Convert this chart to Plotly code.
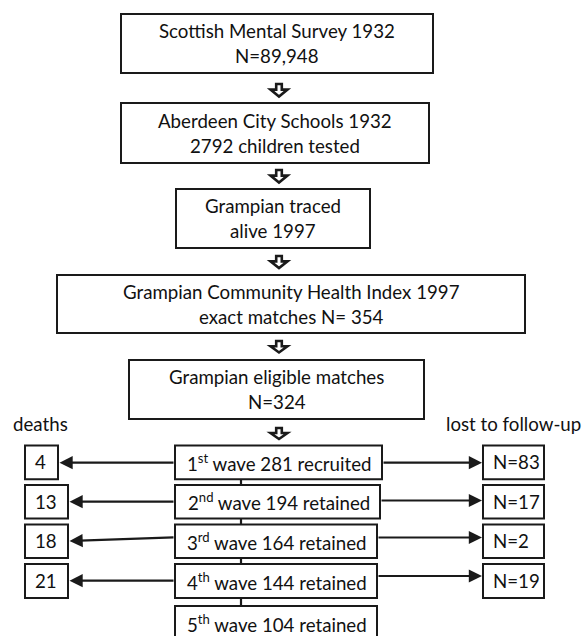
import plotly.graph_objects as go

# ---- data ----
stage_titles = ["Scottish Mental Survey 1932", "Aberdeen City Schools 1932", "Grampian traced",
                "Grampian Community Health Index 1997", "Grampian eligible matches"]
stage_subs = ["N=89,948", "2792 children tested", "alive 1997", "exact matches N= 354", "N=324"]
wave_ordinals = ["1<sup>st</sup>", "2<sup>nd</sup>", "3<sup>rd</sup>", "4<sup>th</sup>", "5<sup>th</sup>"]
wave_counts = [281, 194, 164, 144, 104]
wave_status = ["recruited", "retained", "retained", "retained", "retained"]
deaths = [4, 13, 18, 21]
lost_to_follow_up = [83, 17, 2, 19]

# ---- geometry (pixels, y downwards) ----
stage_boxes = [(121, 433, 14, 73), (121, 429, 103, 163), (176, 370, 189, 248),
               (57, 525, 275, 333), (129, 424, 360, 419)]
block_arrows_y = [(84, 96.5), (170, 182.5), (256, 268), (341, 352.5), (428, 439)]
arrow_cx = 279
row_boxes_y = [(445.5, 479.3), (485, 518.5), (524.5, 558), (564, 598), (606, 642)]
wave_right = [382, 380, 377, 377, 377]
wave_left = 175
left_box_right = [58, 68, 68, 68]
left_arrow_y = [(462.7, 462.7), (501.7, 501.7), (537.3, 541), (580.7, 580.7)]
right_arrow_y = [462.7, 500.5, 537.5, 576]
right_box = (483, 544)

W, H = 585, 636
LINE = "#1a1a1a"
TXT = "#111111"
FONT = "Lato"
FS = 18.7

fig = go.Figure()
shapes = []
annotations = []

def rect(x0, x1, y0, y1):
    shapes.append(dict(type="rect", xref="x", yref="y", x0=x0, x1=x1, y0=y0, y1=y1,
                       line=dict(color=LINE, width=2), fillcolor="white", layer="above"))

def text(x, y, s, anchor="center", size=FS):
    annotations.append(dict(x=x, y=y, xref="x", yref="y", text=s, showarrow=False,
                            xanchor=anchor, yanchor="middle",
                            font=dict(family=FONT, size=size, color=TXT)))

def arrow(x0, y0, x1, y1):
    annotations.append(dict(x=x1, y=y1, ax=x0, ay=y0, xref="x", yref="y", axref="x", ayref="y",
                            text="", showarrow=True, arrowhead=2, arrowsize=1.2,
                            arrowwidth=2.2, arrowcolor=LINE, standoff=0, startstandoff=0))

# stage boxes
for (x0, x1, y0, y1), t, s in zip(stage_boxes, stage_titles, stage_subs):
    rect(x0, x1, y0, y1)
    cy = (y0 + y1) / 2
    text((x0 + x1) / 2, cy - 12.5, t)
    text((x0 + x1) / 2, cy + 12.5, s)

# block arrows
for (y0, y1) in block_arrows_y:
    ym = y0 + (y1 - y0) * 0.45
    sw, hw = 2.8, 8.5
    path = (f"M {arrow_cx - sw},{y0} L {arrow_cx + sw},{y0} L {arrow_cx + sw},{ym} "
            f"L {arrow_cx + hw},{ym} L {arrow_cx},{y1} L {arrow_cx - hw},{ym} "
            f"L {arrow_cx - sw},{ym} Z")
    shapes.append(dict(type="path", xref="x", yref="y", path=path,
                       line=dict(color=LINE, width=2.6), fillcolor="white", layer="above"))

# column headers
text(40, 424, "deaths")
text(583, 424, "lost to follow-up", anchor="right")

# vertical connectors between wave boxes
for i in range(len(row_boxes_y) - 1):
    shapes.append(dict(type="line", xref="x", yref="y", x0=241, x1=241,
                       y0=row_boxes_y[i][1], y1=row_boxes_y[i + 1][0],
                       line=dict(color=LINE, width=2.2), layer="below"))

# wave boxes
for i, ((y0, y1), o, c, st) in enumerate(zip(row_boxes_y, wave_ordinals, wave_counts, wave_status)):
    rect(wave_left, wave_right[i], y0, y1)
    cy = (y0 + y1) / 2 if i < len(row_boxes_y) - 1 else 623
    text((wave_left + wave_right[i]) / 2 + 1, cy, f"{o} wave {c} {st}")

# deaths boxes + arrows
for i, d in enumerate(deaths):
    y0, y1 = row_boxes_y[i]
    rect(25, left_box_right[i], y0, y1)
    text(33, (y0 + y1) / 2, str(d), anchor="left")
    ya, yb = left_arrow_y[i]
    arrow(wave_left, ya, left_box_right[i] + 1.5, yb)

# lost boxes + arrows
for i, n in enumerate(lost_to_follow_up):
    y0, y1 = row_boxes_y[i]
    rect(right_box[0], right_box[1], y0, y1)
    text(right_box[0] + 8, (y0 + y1) / 2, f"N={n}", anchor="left")
    arrow(wave_right[i], right_arrow_y[i], right_box[0] - 1, right_arrow_y[i])

fig.update_layout(
    width=W, height=H, margin=dict(l=0, r=0, t=0, b=0),
    paper_bgcolor="white", plot_bgcolor="white",
    xaxis=dict(range=[0, W], visible=False, fixedrange=True),
    yaxis=dict(range=[H, 0], visible=False, fixedrange=True),
    shapes=shapes, annotations=annotations, showlegend=False,
)
fig.write_html("out.html", config={"displayModeBar": False},
               post_script="document.body.style.margin='0';document.body.style.overflow='hidden';")
